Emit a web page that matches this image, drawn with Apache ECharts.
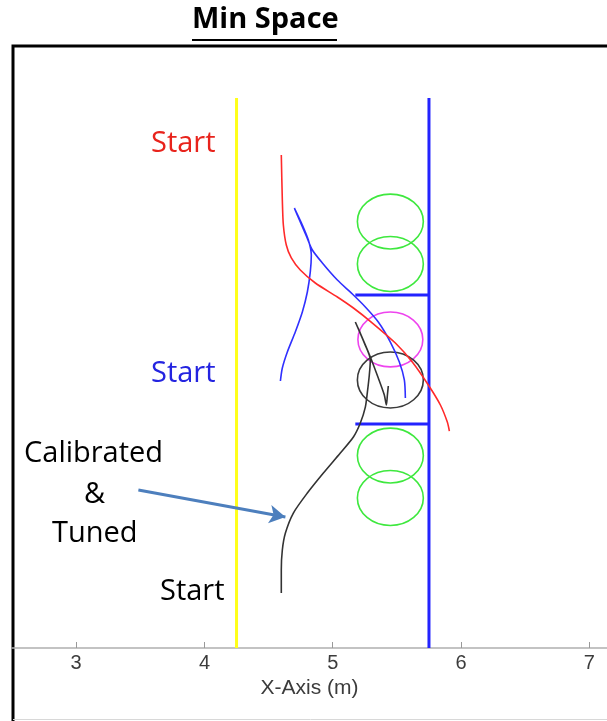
<!DOCTYPE html>
<html>
<head>
<meta charset="utf-8">
<script src="https://cdn.jsdelivr.net/npm/echarts@6/dist/echarts.min.js"></script>
<style>
  html, body { margin: 0; padding: 0; background: #fff; }
  #chart { width: 607px; height: 721px; }
</style>
</head>
<body>
<div id="chart"></div>
<script>
// x ticks (m)
const xTicks = [3, 4, 5, 6, 7];

// boundary lines
const yellowLine = [[4.25, 0], [4.25, 4.287]];
const blueWall = [[5.75, 0], [5.75, 4.287]];
const blueShelfTop = [[5.176, 2.751], [5.75, 2.751]];
const blueShelfBottom = [[5.176, 1.746], [5.75, 1.746]];

// obstacles: [cx, cy, rx, ry]
const greenRings = [
    [5.449, 3.324, 0.257, 0.214],
    [5.449, 2.993, 0.257, 0.214],
    [5.449, 1.500, 0.257, 0.214],
    [5.449, 1.169, 0.257, 0.214],
];
const magentaRing = [[5.449, 2.405, 0.253, 0.214]];
const blackRing = [[5.449, 2.089, 0.257, 0.218]];

// trajectories
const redPath = [
    [4.599, 3.843], [4.607, 3.492], [4.615, 3.297], [4.638, 3.141], [4.677, 3.040],
    [4.747, 2.946], [4.864, 2.845], [5.036, 2.736], [5.161, 2.650], [5.309, 2.533],
    [5.488, 2.377], [5.620, 2.229], [5.745, 2.050], [5.839, 1.894], [5.893, 1.761],
    [5.909, 1.691],
];
const bluePath = [
    [4.592, 2.081], [4.607, 2.182], [4.646, 2.307], [4.708, 2.463], [4.763, 2.619],
    [4.802, 2.775], [4.825, 2.931], [4.833, 3.063], [4.810, 3.180], [4.763, 3.297],
    [4.701, 3.429], [4.747, 3.320], [4.794, 3.211], [4.841, 3.102], [4.919, 3.001],
    [5.036, 2.868], [5.153, 2.759], [5.254, 2.658], [5.355, 2.541], [5.449, 2.385],
    [5.519, 2.229], [5.558, 2.089], [5.566, 1.949],
];
const blackPath = [
    [4.599, 0.429], [4.599, 0.608], [4.607, 0.764], [4.631, 0.896], [4.693, 1.052],
    [4.802, 1.208], [4.927, 1.364], [5.059, 1.520], [5.161, 1.645], [5.215, 1.754],
    [5.254, 1.878], [5.270, 1.995], [5.285, 2.128], [5.293, 2.245], [5.246, 2.377],
    [5.176, 2.541], [5.231, 2.416], [5.293, 2.268], [5.355, 2.104], [5.402, 1.972],
    [5.418, 1.894], [5.426, 1.972], [5.433, 2.042],
];

// annotation arrow
const arrowFrom = [3.485, 1.231];
const arrowTo = [4.631, 1.021];

const chart = echarts.init(document.getElementById("chart"));

const font = "'Open Sans', sans-serif";
const axisFont = "'Liberation Sans', Arial, sans-serif";

function ringSeries(name, data, color) {
    return {
        name: name,
        type: "custom",
        data: data,
        silent: true,
        renderItem: function (params, api) {
            const c = api.coord([api.value(0), api.value(1)]);
            const s = api.size([api.value(2), api.value(3)]);
            return {
                type: "ellipse",
                shape: { cx: c[0], cy: c[1], rx: s[0], ry: s[1] },
                style: { fill: null, stroke: color, lineWidth: 1.6 },
            };
        },
    };
}

function pathSeries(name, data, color, width) {
    return {
        name: name,
        type: "line",
        data: data,
        showSymbol: false,
        symbol: "none",
        smooth: 0.25,
        silent: true,
        lineStyle: { color: color, width: width },
    };
}

const option = {
    animation: false,
    grid: { left: 12, right: 0, top: 45, bottom: 73 },
    xAxis: {
        type: "value",
        min: 2.5,
        max: 7.1376,
        splitLine: { show: false },
        axisLine: { onZero: false, lineStyle: { color: "#b0b0b0", width: 1.5 } },
        axisTick: { inside: true, length: 6, customValues: xTicks, lineStyle: { color: "#999" } },
        axisLabel: {
            customValues: xTicks,
            color: "#3c3c3c",
            fontSize: 20,
            fontFamily: axisFont,
            margin: 5,
        },
        name: "X-Axis (m)",
        nameLocation: "middle",
        nameGap: 30,
        nameTextStyle: { color: "#3c3c3c", fontSize: 21, fontFamily: axisFont },
    },
    yAxis: { type: "value", min: 0, max: 4.7, show: false },
    series: [
        pathSeries("yellow", yellowLine, "#ffff1a", 3),
        ringSeries("green", greenRings, "#3ee83e"),
        ringSeries("magenta", magentaRing, "#ee44ee"),
        ringSeries("blackRing", blackRing, "#3a3a3a"),
        pathSeries("wall", blueWall, "#2323ff", 3),
        pathSeries("shelf1", blueShelfTop, "#2323ff", 3),
        pathSeries("shelf2", blueShelfBottom, "#2323ff", 3),
        pathSeries("blue", bluePath, "#3030ff", 1.6),
        pathSeries("red", redPath, "#ff2a2a", 1.6),
        Object.assign(pathSeries("black", blackPath, "#333333", 1.6), {
            markLine: {
                silent: true,
                symbol: ["none", "arrow"],
                symbolSize: [14, 16],
                label: { show: false },
                lineStyle: { color: "#4d7fbd", width: 3, type: "solid" },
                data: [[{ coord: arrowFrom }, { coord: arrowTo }]],
            },
        }),
    ],
    graphic: [
        { type: "polyline", silent: true, shape: { points: [[13, 721], [13, 46], [610, 46]] },
          style: { stroke: "#000", lineWidth: 3, fill: null } },
        { type: "line", silent: true, shape: { x1: 13, y1: 719.5, x2: 610, y2: 719.5 },
          style: { stroke: "#d8d8d8", lineWidth: 1 } },
        { type: "text", left: 192, top: 5,
          style: { text: "Min Space", font: "bold 29px " + font, fill: "#000" } },
        { type: "line", silent: true, shape: { x1: 192, y1: 40, x2: 337, y2: 40 },
          style: { stroke: "#000", lineWidth: 2 } },
        { type: "text", left: 151, top: 129,
          style: { text: "Start", font: "29px " + font, fill: "#e8231c" } },
        { type: "text", left: 151, top: 359,
          style: { text: "Start", font: "29px " + font, fill: "#2424e0" } },
        { type: "text", left: 24, top: 439,
          style: { text: "Calibrated", font: "29px " + font, fill: "#000" } },
        { type: "text", left: 84, top: 480,
          style: { text: "&", font: "29px " + font, fill: "#000" } },
        { type: "text", left: 52, top: 519,
          style: { text: "Tuned", font: "29px " + font, fill: "#000" } },
        { type: "text", left: 160, top: 577,
          style: { text: "Start", font: "29px " + font, fill: "#000" } },
    ],
};

chart.setOption(option);
</script>
</body>
</html>
